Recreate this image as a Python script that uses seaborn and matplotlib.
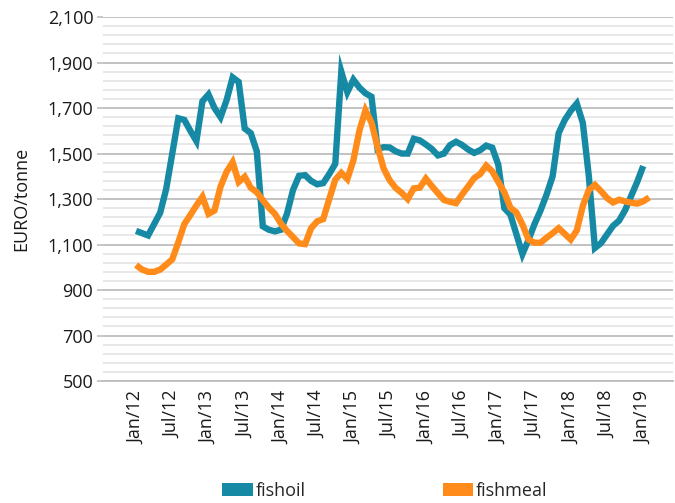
import matplotlib
matplotlib.use("Agg")
import matplotlib.pyplot as plt
from matplotlib.patches import Patch
from matplotlib.ticker import FixedLocator, FuncFormatter
import seaborn as sns
import pandas as pd
import numpy as np

# Monthly prices, EURO/tonne, starting Jan 2012
fishoil = [1160, 1150, 1140, 1190, 1240, 1345, 1500, 1655, 1648, 1600, 1555, 1730,
           1760, 1700, 1660, 1735, 1835, 1815, 1610, 1590, 1510, 1180, 1165, 1158,
           1165, 1235, 1340, 1402, 1405, 1380, 1365, 1370, 1410, 1455, 1860, 1770,
           1825, 1790, 1765, 1750, 1520, 1528, 1527, 1510, 1500, 1500, 1565, 1558,
           1540, 1520, 1492, 1500, 1537, 1552, 1538, 1518, 1503, 1515, 1535, 1526,
           1451, 1260, 1232, 1145, 1058, 1120, 1190, 1250, 1320, 1400, 1590, 1647,
           1688, 1720, 1635, 1400, 1085, 1106, 1144, 1182, 1205, 1251, 1313, 1375,
           1445]
fishmeal = [1010, 990, 980, 980, 990, 1012, 1035, 1110, 1190, 1230, 1272, 1310,
            1235, 1250, 1355, 1420, 1462, 1375, 1398, 1350, 1330, 1295, 1262, 1235,
            1192, 1160, 1133, 1105, 1102, 1172, 1202, 1212, 1300, 1385, 1415, 1388,
            1470, 1601, 1690, 1636, 1530, 1435, 1383, 1349, 1327, 1300, 1347, 1350,
            1390, 1357, 1326, 1296, 1288, 1282, 1320, 1355, 1392, 1410, 1447, 1422,
            1375, 1330, 1262, 1241, 1188, 1122, 1108, 1108, 1130, 1150, 1172, 1147,
            1122, 1162, 1270, 1340, 1362, 1335, 1305, 1285, 1297, 1290, 1284, 1280,
            1290, 1307]
tick_labels = ["Jan/12", "Jul/12", "Jan/13", "Jul/13", "Jan/14", "Jul/14", "Jan/15",
               "Jul/15", "Jan/16", "Jul/16", "Jan/17", "Jul/17", "Jan/18", "Jul/18",
               "Jan/19"]
y_ticks = [500, 700, 900, 1100, 1300, 1500, 1700, 1900, 2100]
series_names = ["fishoil", "fishmeal"]
colors = {"fishoil": "#168aa5", "fishmeal": "#ff8c1a"}

df = pd.concat([
    pd.DataFrame({"month": np.arange(len(fishoil)), "price": fishoil, "series": "fishoil"}),
    pd.DataFrame({"month": np.arange(len(fishmeal)), "price": fishmeal, "series": "fishmeal"}),
], ignore_index=True)

sns.set_theme(style="white")
plt.rcParams["font.family"] = ["Open Sans", "DejaVu Sans"]

fig = plt.figure(figsize=(6.75, 5.03), dpi=100)
ax = fig.add_axes([0.1526, 0.2425, 0.845, 0.7235])

sns.lineplot(data=df, x="month", y="price", hue="series", palette=colors,
             hue_order=series_names, linewidth=4.6, ax=ax, legend=False,
             solid_joinstyle="miter", solid_capstyle="butt")

ax.set_ylim(500, 2100)
ax.set_xlim(-5.47, 89.0)

ax.yaxis.set_major_locator(FixedLocator(y_ticks))
ax.yaxis.set_minor_locator(FixedLocator(np.arange(500, 2101, 40)))
ax.yaxis.set_major_formatter(FuncFormatter(lambda v, p: f"{int(v):,}"))
ax.grid(which="minor", axis="y", color="#e6e6e6", linewidth=1.3)
ax.grid(which="major", axis="y", color="#bdbdbd", linewidth=1.3)
ax.set_axisbelow(True)

ax.set_xticks(np.arange(0, 6 * len(tick_labels), 6))
ax.set_xticklabels(tick_labels, rotation=90)
ax.xaxis.set_minor_locator(FixedLocator(np.arange(-5.47, 90, 12)))

for s in ax.spines.values():
    s.set_visible(False)
ax.spines["bottom"].set_visible(True)
ax.spines["bottom"].set_color("#bdbdbd")
ax.spines["bottom"].set_linewidth(1.3)

ax.tick_params(axis="x", which="major", length=0, pad=7, labelsize=13, labelcolor="#1a1a1a")
ax.tick_params(axis="x", which="minor", length=5, color="#bdbdbd", width=1.2, direction="out")
ax.tick_params(axis="y", which="major", length=4, color="#bdbdbd", width=1.2, left=True,
               pad=3, labelsize=13, labelcolor="#1a1a1a")
ax.tick_params(axis="y", which="minor", length=0)

ax.set_xlabel("")
ax.set_ylabel("EURO/tonne", fontsize=13, color="#1a1a1a")
ax.yaxis.set_label_coords(-0.128, 0.5)

handles = [Patch(facecolor=colors[n], edgecolor="none", label=n) for n in series_names]
fig.legend(handles=handles, loc="center", bbox_to_anchor=(0.57, 0.024), ncol=2,
           frameon=False, fontsize=13, handlelength=1.7, handleheight=0.7,
           handletextpad=0.15, columnspacing=7.6)

fig.savefig("out.png", dpi=100)
